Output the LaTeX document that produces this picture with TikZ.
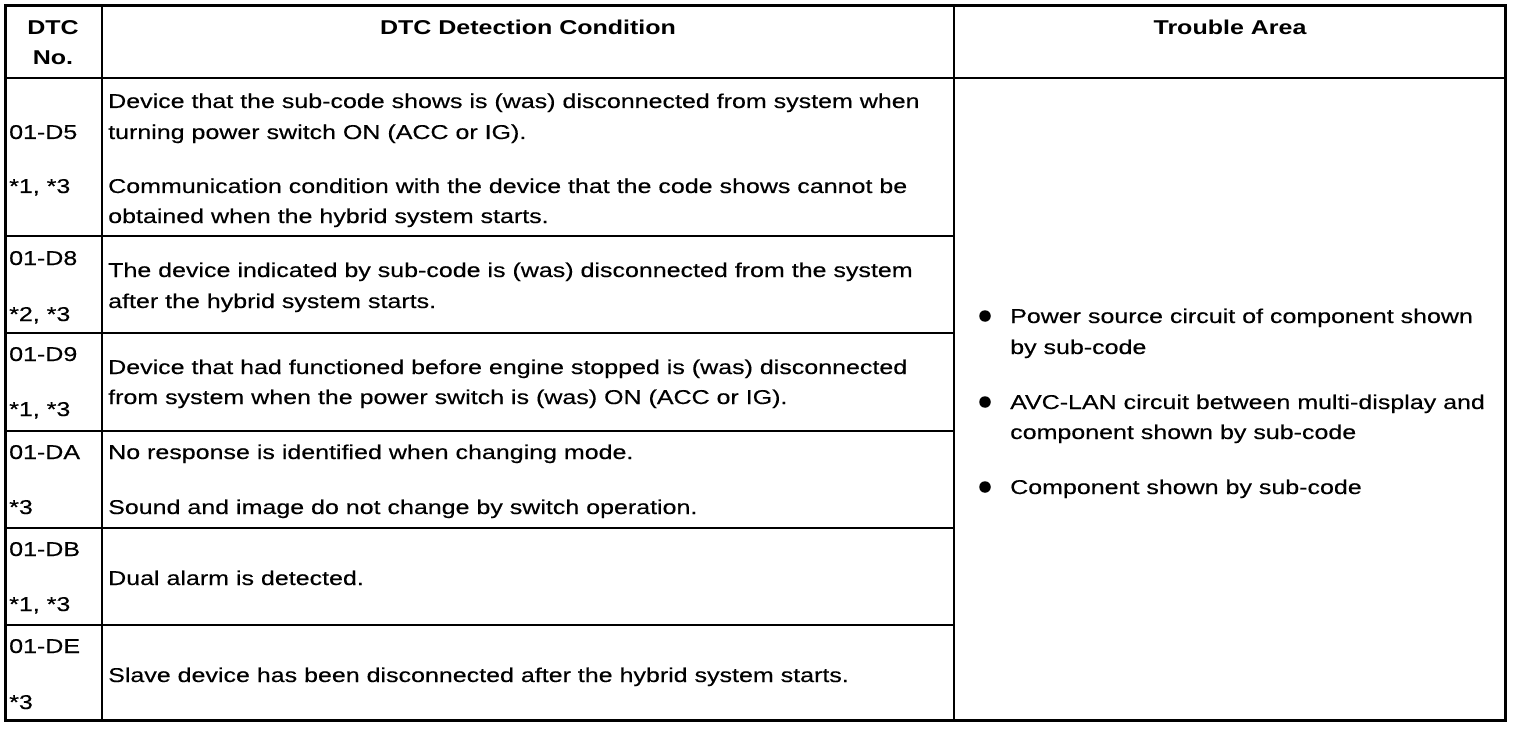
\documentclass[tikz,border=0pt]{standalone}
\usepackage{fontspec}
\setmainfont{Liberation Sans}[FakeStretch=1.25, UprightFeatures={FakeBold=0.35}]
\begin{document}
\begin{tikzpicture}[x=1pt,y=-1pt,
  txt/.style={anchor=base west, inner sep=0pt, font=\fontsize{20}{23}\selectfont},
  hdr/.style={anchor=base, inner sep=0pt, font=\fontsize{20}{23}\selectfont\bfseries},
  rowline/.style={line width=2pt},
  colline/.style={line width=1.5pt},
  bul/.style={circle, fill=black, inner sep=0pt, minimum size=11.5pt}]
\useasboundingbox (0,0) rectangle (1520,730);
% grid
\draw[line width=2.5pt] (5,78) -- (1505,78);
\foreach \yy in {236,333,431,528,625} \draw[rowline] (5,\yy) -- (954,\yy);
\draw[colline] (102,5) -- (102,720);
\draw[colline] (954,5) -- (954,720);
\draw[line width=3pt] (5.5,5.5) rectangle (1505,720.5);
% header
\node[hdr] (h1a) at (53,35) {DTC};
\node[hdr] (h1b) at (53,65) {No.};
\node[hdr] (h2) at (528,35) {DTC Detection Condition};
\node[hdr] (h3) at (1230,35) {Trouble Area};
% row 1
\node[txt] (c1) at (9,139) {01-D5};
\node[txt] (n1) at (9,193) {*1, *3};
\node[txt] (d1a) at (108,108) {Device that the sub-code shows is (was) disconnected from system when};
\node[txt] (d1b) at (108,139) {turning power switch ON (ACC or IG).};
\node[txt] (d1c) at (108,193) {Communication condition with the device that the code shows cannot be};
\node[txt] (d1d) at (108,223) {obtained when the hybrid system starts.};
% row 2
\node[txt] (c2) at (9,265) {01-D8};
\node[txt] (n2) at (9,321) {*2, *3};
\node[txt] (d2a) at (108,277) {The device indicated by sub-code is (was) disconnected from the system};
\node[txt] (d2b) at (108,308) {after the hybrid system starts.};
% row 3
\node[txt] (c3) at (9,361) {01-D9};
\node[txt] (n3) at (9,416) {*1, *3};
\node[txt] (d3a) at (108,374) {Device that had functioned before engine stopped is (was) disconnected};
\node[txt] (d3b) at (108,404) {from system when the power switch is (was) ON (ACC or IG).};
% row 4
\node[txt] (c4) at (9,459) {01-DA};
\node[txt] (n4) at (9,514) {*3};
\node[txt] (d4a) at (108,459) {No response is identified when changing mode.};
\node[txt] (d4b) at (108,514) {Sound and image do not change by switch operation.};
% row 5
\node[txt] (c5) at (9,556) {01-DB};
\node[txt] (n5) at (9,611) {*1, *3};
\node[txt] (d5) at (108,585) {Dual alarm is detected.};
% row 6
\node[txt] (c6) at (9,653) {01-DE};
\node[txt] (n6) at (9,709) {*3};
\node[txt] (d6) at (108,682) {Slave device has been disconnected after the hybrid system starts.};
% trouble area
\node[bul] (b1) at (985,316) {};
\node[txt] (t1a) at (1010,323) {Power source circuit of component shown};
\node[txt] (t1b) at (1010,354) {by sub-code};
\node[bul] (b2) at (985,402) {};
\node[txt] (t2a) at (1010,409) {AVC-LAN circuit between multi-display and};
\node[txt] (t2b) at (1010,439) {component shown by sub-code};
\node[bul] (b3) at (985,487) {};
\node[txt] (t3) at (1010,494) {Component shown by sub-code};
\end{tikzpicture}
\end{document}
